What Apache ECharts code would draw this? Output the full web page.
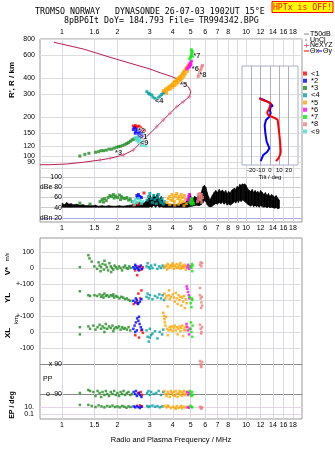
<!DOCTYPE html>
<html><head><meta charset="utf-8">
<script src="https://cdn.jsdelivr.net/npm/echarts@6/dist/echarts.min.js"></script>
<style>html,body{margin:0;padding:0;background:#fff}#c{width:335px;height:451px}</style>
</head><body><div id="c"></div>
<script>
// ---------- axis ticks ----------
const freqTicks = [1,1.5,2,3,4,5,6,7,8,9,10,12,14,16,18];
const topFreqLabels = [1,1.5,2,3,4,5,6,7,8,10,12,14,16,18];
const midFreqLabels = [1,1.5,2,3,4,5,6,7,8,9,10,12,14,16,18];
const botFreqLabels = [1,1.5,2,3,4,5,6,7,8,10,12,14,16,18];
const heightTicks = [80,90,100,120,150,200,300,400,600,800];
const dbTicks = [20,40,60,80,100];
const tiltTicks = [-20,-10,0,10,20];

// ---------- trace legend ----------
const traceNames = ['<1','*2','*3','<4','*5','*6','*7','*8','<9'];
const traceColors = ['#ff0000','#0000ff','#228b22','#00a0a0','#ffa500','#ff00ff','#00ee00','#f08080','#40e0d0'];

// ---------- electron density profile (MHz, km) ----------
const profFreq = [0.759,0.861,1.06,1.305,1.609,1.823,2.154,2.44,2.654,2.886,3.271,3.552,3.864,4.202,4.563,4.918,5.007,4.859,4.377,3.864,3.409,3.008,1.983,1.305,0.905];
const profHeight = [85.7,85.7,86.8,89.5,93.2,96.0,101.9,111.3,125.4,141,168.4,189.7,213.6,240.2,262.6,287,313.6,342.8,386,414.5,439.5,469.3,557.5,669.6,754.4];
const neFreq = [1.609,1.823,2.154,2.44,3.271,3.552,3.864,4.202,4.563,4.918];
const neHeight = [93.2,96.0,101.9,111.3,168.4,189.7,213.6,240.2,262.6,287];

// ---------- virtual height traces (MHz, km) ----------
const t1Main = [[2.44,170],[2.5,172],[2.56,168],[2.62,170],[2.68,165],[2.74,160],[2.8,158],[2.66,158],[2.52,165]];
const t2Main = [[2.44,160],[2.48,165],[2.52,155],[2.56,160],[2.6,150],[2.65,155],[2.7,148],[2.75,145],[2.5,150],[2.62,142],[2.7,140]];
const t3Main = [[1.25,100],[1.33,103],[1.40,105],[1.52,107],[1.58,108],[1.63,110],[1.68,110],[1.74,111],[1.80,113],[1.86,113],[1.92,115],[1.98,117],[2.03,118],[2.08,119],[2.14,121],[2.20,123],[2.25,125],[2.30,127],[2.35,130],[2.40,133],[2.45,135],[2.50,137]];
const t4Main = [[2.89,314],[2.95,305],[3.0,300],[3.07,296],[3.12,285],[3.2,278],[3.27,274],[3.35,282],[3.41,290],[3.48,298],[3.54,306],[3.6,310]];
const t5Main = [[3.55,320],[3.62,315],[3.65,330],[3.7,320],[3.75,335],[3.8,340],[3.85,345],[3.9,350],[3.95,355],[4.0,360],[4.05,370],[4.1,375],[4.15,380],[4.2,385],[4.25,395],[4.3,400],[4.35,405],[4.4,410],[4.45,420],[4.5,430],[4.55,440],[4.6,450],[4.65,460],[4.7,470],[4.75,480],[4.8,490],[4.85,500],[4.9,515],[3.7,305],[3.8,325],[3.9,330],[4.0,340],[4.1,350],[4.2,360],[4.3,370],[4.4,385],[4.5,395],[4.6,410],[4.7,430],[4.8,450],[4.6,430],[4.4,400],[4.2,375],[4.0,350]];
const t6Main = [[4.78,470],[4.85,480],[4.9,495],[4.95,510],[5.0,525],[5.05,540],[4.95,490],[5.02,505]];
const t7Main = [[4.95,560],[5.0,580],[5.05,600],[5.08,620],[5.1,640],[5.05,660],[5.12,590]];
const t8Main = [[5.5,410],[5.55,425],[5.6,440],[5.65,455],[5.7,470],[5.75,490],[5.8,500]];
const t9Main = [[2.5,138],[2.55,140],[2.6,135],[2.65,132],[2.7,128],[2.75,125],[2.8,122],[2.85,120],[2.6,128],[2.7,121],[2.78,130],[2.55,132]];

// trace tags drawn in the ionogram
const tagNames = ['*3','<4','*5','*6','*7','*8','*2','<1','<9'];
const tagFreq = [1.94,3.20,4.38,5.07,5.17,5.57,2.59,2.62,2.65];
const tagHeight = [105.5,266,353,469,594,422,156,140,126];

// ---------- amplitude panel (dB) ----------
const bandFreq = [1.0,1.03,1.06,1.09,1.12,1.15,1.2,1.25,1.3,1.35,1.4,1.46,1.52,1.58,1.65,1.72,1.8,1.88,1.96,2.05,2.15,2.25,2.35,2.45,2.55,2.65,2.75,2.85,2.95,3.02,3.08,3.15,3.22,3.3,3.38,3.46,3.55,3.65,3.75,3.9,4.05,4.2,4.35,4.5,4.65,4.8,4.95,5.1,5.25,5.4,5.55,5.7,5.85,5.95,6.05,6.15,6.25,6.35,6.45,6.55,6.7,6.85,7.0,7.15,7.3,7.45,7.6,7.75,7.9,8.05,8.2,8.35,8.5,8.65,8.8,8.95,9.1,9.25,9.4,9.55,9.7,9.85,10.0,10.2,10.4,10.6,10.8,11.0,11.2,11.4,11.6,11.8,12.0,12.25,12.5,12.75,13.0,13.25,13.5,13.75,14.0,14.3,14.6,14.9,15.2];
const bandHigh = [49,46,50,47,48,46,47,45,46,44,45,44,45,43,44,43,44,43,43,44,43,44,45,46,47,50,48,52,58,64,55,66,60,68,56,62,50,48,47,46,47,46,47,48,50,54,68,56,62,60,64,70,82,84,80,70,62,56,58,64,70,74,70,76,72,75,70,74,68,72,69,74,76,79,76,82,80,86,84,87,86,87,84,78,74,72,76,70,74,70,72,68,74,70,66,70,64,68,62,66,64,61,64,58,55];
const bandLow = [41,41,41,41,41,41,41,41,41,41,41,41,41,41,41,41,41,41,41,41,41,41,41,41,41,41,41,41,41,42,41,45,41,44,41,42,41,41,41,41,41,41,41,41,41,41,42,43,44,45,44,46,50,54,52,46,43,42,42,43,46,48,47,50,48,51,47,50,45,48,45,47,49,52,49,54,50,55,52,55,54,52,50,47,45,43,46,42,45,42,44,41,45,42,41,42,40,42,40,41,40,39,40,38,39];
const t1Db = [[2.44,45],[2.55,49],[2.79,69],[2.6,47]];
const t2Db = [[2.55,64],[2.6,66],[2.65,62],[2.7,60],[2.58,60]];
const t3Db = [[1.25,49],[1.42,47],[1.61,52],[1.65,56],[1.7,58],[1.74,54],[1.78,60],[1.82,64],[1.86,62],[1.9,66],[1.95,63],[2.0,60],[2.05,65],[2.1,62],[2.15,59],[2.2,58],[2.25,60],[2.3,55],[2.35,57],[2.4,52],[1.68,51],[1.92,59],[2.08,56]];
const t4Db = [[2.9,55],[2.95,62],[3.0,68],[3.05,58],[3.1,50],[3.15,64],[3.2,56],[3.25,48],[3.3,60],[3.35,66],[3.4,54],[3.45,50],[3.5,58],[3.55,47],[3.6,52]];
const t5Db = [[3.72,50],[3.78,58],[3.84,62],[3.9,55],[3.96,66],[4.02,60],[4.08,52],[4.14,64],[4.2,68],[4.26,58],[4.32,62],[4.38,55],[4.44,66],[4.5,60],[4.56,52],[4.62,64],[4.68,57],[4.74,48],[3.85,46],[4.1,45],[4.3,47],[4.6,44],[4.0,54],[4.4,50]];
const t6Db = [[4.83,56],[4.88,62],[4.92,66],[4.96,58],[5.0,54],[4.9,52]];
const t7Db = [[4.98,50],[5.03,56],[5.08,58],[5.13,52],[5.18,48],[5.05,47]];
const t8Db = [[5.45,52],[5.5,58],[5.55,64],[5.6,68],[5.65,62],[5.7,56],[5.75,50],[5.8,60],[5.5,66],[5.62,55],[5.72,66]];
const t9Db = [[2.44,52],[2.5,56],[2.55,50],[2.6,58],[2.65,54],[2.7,48],[2.75,52],[2.48,46]];

// ---------- V* (m/s) ----------
const t1V = [[2.5,-15],[2.6,10],[2.7,-10],[2.56,-45],[2.75,5]];
const t2V = [[2.44,5],[2.48,-5],[2.52,10],[2.56,0],[2.6,-10],[2.64,5],[2.68,15],[2.72,-5],[2.5,20],[2.62,-15]];
const t3V = [[1.25,5],[1.25,-70],[1.39,80],[1.41,60],[1.45,40],[1.5,10],[1.55,-5],[1.58,35],[1.6,15],[1.63,5],[1.66,25],[1.69,-10],[1.72,20],[1.75,5],[1.78,-15],[1.81,30],[1.84,10],[1.87,0],[1.9,-10],[1.93,15],[1.96,5],[2.0,-5],[2.04,10],[2.08,0],[2.12,-15],[2.16,5],[2.2,15],[2.24,0],[2.28,-5],[2.32,10],[2.36,0],[1.62,-20],[1.7,45],[1.85,-25]];
const t4V = [[2.88,10],[2.92,30],[2.96,5],[3.0,-5],[3.05,15],[3.1,0],[3.2,20],[3.3,-5],[3.38,10],[3.45,0],[3.52,15],[3.58,5]];
const t5V = [[3.6,5],[3.65,15],[3.7,10],[3.75,25],[3.8,0],[3.85,15],[3.9,5],[3.95,20],[4.0,10],[4.05,-5],[4.1,15],[4.15,5],[4.2,25],[4.25,0],[4.3,10],[4.35,20],[4.4,-5],[4.45,10],[4.5,0],[4.55,15],[4.6,5],[4.65,20],[4.7,-10],[4.75,10],[3.72,-10],[4.0,30],[4.4,30]];
const t6V = [[4.8,5],[4.85,20],[4.9,-5],[4.95,10]];
const t7V = [[5.0,10],[5.05,0],[5.1,-20],[5.12,15],[5.08,25]];
const t8V = [[5.62,20],[5.67,35],[5.72,10],[5.77,30],[5.7,-60]];
const t9V = [];

// ---------- YL (km) ----------
const t1YL = [[2.45,-25],[2.55,-15],[2.6,40],[2.7,60],[2.66,10]];
const t2YL = [[2.44,-5],[2.5,-15],[2.55,0],[2.6,-20],[2.65,-10],[2.7,5],[2.52,10],[2.58,-25]];
const t3YL = [[1.25,55],[1.39,30],[1.42,25],[1.5,30],[1.55,25],[1.6,35],[1.63,20],[1.66,30],[1.7,40],[1.73,25],[1.76,30],[1.8,20],[1.84,30],[1.88,25],[1.92,15],[1.96,25],[2.0,20],[2.05,10],[2.1,20],[2.15,15],[2.2,5],[2.25,10],[2.3,0],[2.35,-5],[1.68,15],[1.9,35]];
const t4YL = [[2.88,20],[2.92,40],[2.96,10],[3.0,30],[3.1,5],[3.2,25],[3.3,15],[3.38,35],[3.45,10],[3.52,30],[3.58,0]];
const t5YL = [[3.6,40],[3.65,10],[3.7,25],[3.75,-40],[3.8,30],[3.85,5],[3.9,20],[3.95,-55],[4.0,35],[4.05,15],[4.1,-10],[4.15,45],[4.2,10],[4.25,-25],[4.3,30],[4.35,0],[4.4,20],[4.45,-35],[4.5,15],[4.55,-10],[4.6,25],[4.65,-50],[4.7,5],[4.75,-20],[3.82,60],[4.42,-70]];
const t6YL = [[4.76,85],[4.8,70],[4.84,50],[4.88,30],[4.92,10]];
const t7YL = [[4.95,20],[5.0,-20],[5.05,-45],[5.1,0],[5.12,-70],[5.08,10]];
const t8YL = [[5.62,75],[5.62,30],[5.67,10],[5.72,-15],[5.77,-35],[5.7,-50],[5.75,20]];
const t9YL = [];

// ---------- XL (km) ----------
const t1XL = [[2.5,-20],[2.62,-35],[2.7,10],[2.75,-5]];
const t2XL = [[2.44,20],[2.48,40],[2.52,60],[2.56,85],[2.6,70],[2.64,50],[2.68,30],[2.72,15],[2.55,10],[2.62,95],[2.5,0]];
const t3XL = [[1.25,30],[1.25,-15],[1.39,35],[1.42,20],[1.48,40],[1.52,15],[1.56,30],[1.6,45],[1.63,20],[1.66,35],[1.7,25],[1.73,50],[1.76,20],[1.8,35],[1.84,25],[1.88,40],[1.92,20],[1.96,30],[2.0,25],[2.04,35],[2.08,15],[2.12,30],[2.16,20],[2.2,25],[2.25,15],[2.3,30],[2.35,10],[1.7,0],[1.9,5]];
const t4XL = [[2.88,10],[2.92,-30],[2.96,-60],[3.0,20],[3.05,-20],[3.1,-10],[3.2,5],[3.3,-40],[3.4,0],[3.5,-15],[3.55,15],[3.0,-35]];
const t5XL = [[3.55,120],[3.58,100],[3.6,80],[3.62,60],[3.65,40],[3.68,95],[3.72,20],[3.76,-20],[3.8,10],[3.85,30],[3.9,15],[3.95,35],[4.0,5],[4.05,25],[4.1,40],[4.15,10],[4.2,30],[4.25,-15],[4.3,20],[4.35,35],[4.4,5],[4.45,25],[4.5,40],[4.55,-25],[4.6,15],[4.65,30],[4.7,10],[4.75,35]];
const t6XL = [[4.8,30],[4.85,10],[4.9,-15],[4.75,50],[4.95,20]];
const t7XL = [[5.0,20],[5.05,0],[5.1,-30],[5.12,40],[5.02,60]];
const t8XL = [[5.62,45],[5.67,20],[5.72,0],[5.77,30],[5.7,-10]];
const t9XL = [];

// ---------- x polarisation (deg) ----------
const t8X = [[5.62,120],[5.67,90],[5.72,60],[5.77,110],[5.7,70]];

// ---------- PP (deg) ----------
const t1PP = [[2.62,-80],[2.68,-70],[2.72,-100]];
const t2PP = [[2.45,-70],[2.5,-90],[2.55,-110],[2.6,-80],[2.65,-100],[2.7,-120],[2.52,-60]];
const t3PP = [[1.25,-80],[1.39,-50],[1.42,-60],[1.48,-70],[1.52,-110],[1.56,-60],[1.6,-80],[1.63,-120],[1.66,-70],[1.7,-100],[1.73,-60],[1.76,-90],[1.8,-110],[1.84,-70],[1.88,-90],[1.92,-60],[1.96,-100],[2.0,-80],[2.04,-110],[2.08,-70],[2.12,-90],[2.16,-60],[2.2,-100],[2.25,-80],[2.3,-70],[2.35,-100],[2.4,-90]];
const t4PP = [[2.9,-80],[2.95,-60],[3.0,-100],[3.05,-70],[3.15,-90],[3.25,-80],[3.35,-60],[3.45,-100],[3.55,-70]];
const t5PP = [[3.6,-60],[3.65,-90],[3.7,-110],[3.75,-70],[3.8,-90],[3.85,-120],[3.9,-60],[3.95,-80],[4.0,-100],[4.05,-70],[4.1,-110],[4.15,-60],[4.2,-90],[4.25,-120],[4.3,-80],[4.35,-60],[4.4,-100],[4.45,-70],[4.5,-110],[4.55,-80],[4.6,-60],[4.65,-100],[4.7,-90],[4.75,-70]];
const t6PP = [[4.8,-70],[4.85,-100],[4.9,-80]];
const t7PP = [[4.95,-60],[5.0,-90],[5.05,-110],[5.1,-70],[5.12,-100]];

// ---------- EP (deg) ----------
const t1EP = [[2.65,30],[2.72,15]];
const t2EP = [[2.45,15],[2.5,8],[2.55,20],[2.6,10],[2.65,5],[2.7,12]];
const t3EP = [[1.25,40],[1.39,40],[1.45,20],[1.52,10],[1.58,30],[1.64,15],[1.7,8],[1.76,20],[1.82,12],[1.88,25],[1.94,10],[2.0,15],[2.06,8],[2.12,20],[2.18,12],[2.24,6],[2.3,15],[2.36,10]];
const t4EP = [[2.9,20],[2.95,10],[3.0,15],[3.1,25],[3.2,12],[3.3,18],[3.4,8],[3.5,15]];
const t5EP = [[3.6,20],[3.7,8],[3.8,15],[3.9,5],[4.0,12],[4.1,6],[4.2,18],[4.3,5],[4.4,10],[4.5,4],[4.6,12],[4.7,7],[3.75,25],[4.15,3],[4.45,20]];
const t6EP = [[4.82,10],[4.88,6]];
const t7EP = [[4.98,20],[5.05,12],[5.1,8]];
const t8EP = [[5.62,12],[5.67,6],[5.72,3],[5.77,8]];

// ---------- tilt inset (deg, km) ----------
const thetaX = [-11.1,-7.2,-2.9,0.7,2.2,-0.7,-2.9,-2.5,1.8,5.4,8.2,9.7,9.7,10.8,11.5,10.8,9.0,6.5];
const thetaXh = [279,269,263,255,248,234,218,210,201,196,190,184,154,129,108,102,96,91.5];
const thetaY = [-11.5,-7.2,-0.7,2.9,0.7,0,0.7,1.4,-0.7,-4.3,-5.7,-5.0,-3.6,-0.7,-2.9,-7.2,-10.0];
const thetaYh = [279,272,258,244,240,225,214,210,201,190,173,150,129,115,108,102,91.5];

// ================= build chart =================
const FONT = '"Liberation Sans", Arial, sans-serif';
const MONO = '"DejaVu Sans Mono", monospace';
const GRID_V = '#dcd8e0', GRID_H = '#dddddd';

function gridBox(top, height, extra) {
  return Object.assign({left: 40, right: 33, top: top, height: height, outerBoundsMode: 'none', containLabel: false}, extra || {});
}
const grids = [
  gridBox(39, 133),   // 0 main
  gridBox(172, 50),   // 1 dB
  gridBox(238, 38),   // 2 V*
  gridBox(276, 32),   // 3 YL
  gridBox(308, 48),   // 4 XL
  gridBox(356, 16),   // 5 x
  gridBox(372, 28),   // 6 PP
  gridBox(400, 19),   // 7 EP
  {left: 242, width: 56, top: 66, height: 99, outerBoundsMode: 'none', show: true, backgroundColor: '#ffffff', borderColor: '#aab0c8', borderWidth: 1, z: 2}, // 8 inset
  gridBox(39, 183, {show: true, borderColor: '#999', borderWidth: 1, backgroundColor: 'transparent'}), // 9 frame
  gridBox(238, 181, {show: true, borderColor: '#999', borderWidth: 1, backgroundColor: 'transparent'})  // 10 frame
];

function freqAxis(gi, labels, pos, fmt, extra) {
  return Object.assign({
    type: 'log', logBase: 10, gridIndex: gi, min: 0.759, max: 20.15, position: pos || 'bottom',
    axisLine: {show: false}, axisTick: {show: false, customValues: freqTicks},
    axisLabel: labels ? {show: true, customValues: labels, fontSize: 7, fontFamily: FONT, color: '#000', margin: 3,
      formatter: fmt || (v => String(v))} : {show: false},
    splitLine: {show: true, lineStyle: {color: GRID_V, width: 1}}
  }, extra || {});
}
const xAxes = [
  freqAxis(0, topFreqLabels, 'top', v => (v === 1.5 ? '1.6' : String(v))),
  freqAxis(1, midFreqLabels, 'bottom'),
  freqAxis(2), freqAxis(3), freqAxis(4), freqAxis(5), freqAxis(6),
  freqAxis(7, botFreqLabels, 'bottom', null, {name: 'Radio and Plasma Frequency / MHz', nameLocation: 'middle', nameGap: 17,
    nameTextStyle: {fontSize: 7.5, fontFamily: FONT, color: '#000'}}),
  {type: 'value', gridIndex: 8, min: -30, max: 30, z: 3,
    axisLine: {show: false}, axisTick: {show: false, customValues: tiltTicks},
    axisLabel: {show: true, customValues: tiltTicks, fontSize: 6, fontFamily: FONT, color: '#000', margin: 2},
    splitLine: {show: true, lineStyle: {color: '#aab0c8'}},
    name: 'Tilt / deg', nameLocation: 'middle', nameGap: 9, nameTextStyle: {fontSize: 6, fontFamily: FONT, color: '#000'}},
  {type: 'value', gridIndex: 9, show: false},
  {type: 'value', gridIndex: 10, show: false}
];

function valAxis(gi, min, max, ticks, fmt, margin, splitColor, extra) {
  return Object.assign({
    type: 'value', gridIndex: gi, min: min, max: max,
    axisLine: {show: false}, axisTick: {show: false, customValues: ticks},
    axisLabel: {show: true, customValues: ticks, fontSize: 7, fontFamily: FONT, color: '#000', margin: margin,
      formatter: fmt || (v => String(v))},
    splitLine: {show: true, lineStyle: {color: splitColor || GRID_H, width: 1}}
  }, extra || {});
}
const yAxes = [
  valAxis(0, 75.3, 800, heightTicks, null, 5, GRID_H, {type: 'log', logBase: 10}),
  valAxis(1, 11.7, 110.5, dbTicks, v => (v === 80 ? 'dBe 80' : v === 20 ? 'dBn 20' : String(v)), -22,
    ['#a8a8e8', '#cccccc', '#cccccc', '#cccccc', '#cccccc']),
  valAxis(2, -50, 187.5, [0, 100], null, 6),
  valAxis(3, -50, 150, [0, 100], v => (v === 100 ? '+-100' : String(v)), 6),
  valAxis(4, -150, 150, [-100, 0, 100], v => (v === 100 ? '+-100' : String(v)), 6),
  valAxis(5, 10, 170, [90], v => 'x ' + v, -22, '#8a8a8a'),
  valAxis(6, -150, 130, [-90], v => 'o ' + v, -22, '#8a8a8a'),
  valAxis(7, 0.00373, 1000, [0.1, 10], v => (v === 10 ? '10.' : String(v)), 6, '#e4d4e8', {type: 'log', logBase: 10}),
  {type: 'log', logBase: 10, gridIndex: 8, min: 85.3, max: 495, z: 3,
    axisLine: {show: false}, axisTick: {show: false, customValues: [100,120,150,200,300,400]},
    axisLabel: {show: false}, splitLine: {show: true, lineStyle: {color: GRID_H}}},
  {type: 'value', gridIndex: 9, show: false},
  {type: 'value', gridIndex: 10, show: false}
];

const series = [];
// profile
series.push({type: 'line', xAxisIndex: 0, yAxisIndex: 0, data: profFreq.map((f, i) => [f, profHeight[i]]),
  symbol: 'none', lineStyle: {color: '#b81e50', width: 1}, z: 2, silent: true});
series.push({type: 'scatter', xAxisIndex: 0, yAxisIndex: 0, data: neFreq.map((f, i) => [f, neHeight[i]]),
  symbol: 'path://M0,2L4,2M2,0L2,4', symbolSize: 4,
  itemStyle: {color: 'rgba(0,0,0,0)', borderColor: '#e86a98', borderWidth: 1}, z: 2, silent: true});

const panelData = [
  {x: 0, size: 3, sets: [t1Main, t2Main, t3Main, t4Main, t5Main, t6Main, t7Main, t8Main, t9Main]},
  {x: 1, size: 3, sets: [t1Db, t2Db, t3Db, t4Db, t5Db, t6Db, t7Db, t8Db, t9Db]},
  {x: 2, size: 2.5, sets: [t1V, t2V, t3V, t4V, t5V, t6V, t7V, t8V, t9V]},
  {x: 3, size: 2.5, sets: [t1YL, t2YL, t3YL, t4YL, t5YL, t6YL, t7YL, t8YL, t9YL]},
  {x: 4, size: 2.5, sets: [t1XL, t2XL, t3XL, t4XL, t5XL, t6XL, t7XL, t8XL, t9XL]},
  {x: 5, size: 2.5, sets: [[], [], [], [], [], [], [], t8X, []]},
  {x: 6, size: 2.5, sets: [t1PP, t2PP, t3PP, t4PP, t5PP, t6PP, t7PP, [], []]},
  {x: 7, size: 2.5, sets: [t1EP, t2EP, t3EP, t4EP, t5EP, t6EP, t7EP, t8EP, []]}
];

// amplitude band (black)
series.push({type: 'custom', xAxisIndex: 1, yAxisIndex: 1, silent: true, z: 2,
  data: bandFreq.map((f, i) => [f, bandLow[i], bandHigh[i]]),
  renderItem: function (params, api) {
    const i = params.dataIndexInside;
    if (i >= params.dataInsideLength - 1) return null;
    const a = api.coord([api.value(0, i), api.value(1, i)]);
    const b = api.coord([api.value(0, i), api.value(2, i)]);
    const c = api.coord([api.value(0, i + 1), api.value(2, i + 1)]);
    const d = api.coord([api.value(0, i + 1), api.value(1, i + 1)]);
    return {type: 'polygon', shape: {points: [a, b, c, d]}, style: {fill: '#000', stroke: '#000', lineWidth: 0.6}};
  }});

panelData.forEach(p => {
  p.sets.forEach((d, k) => {
    series.push({type: 'scatter', name: traceNames[k], xAxisIndex: p.x, yAxisIndex: p.x, data: d,
      symbol: 'rect', symbolSize: p.size, itemStyle: {color: traceColors[k]}, z: 3, silent: true});
  });
});

// trace tags
series.push({type: 'scatter', xAxisIndex: 0, yAxisIndex: 0, symbolSize: 0, z: 5, silent: true,
  data: tagNames.map((n, i) => ({name: n, value: [tagFreq[i], tagHeight[i]]})),
  label: {show: true, position: [0, 0], align: 'left', verticalAlign: 'middle', formatter: '{b}',
    fontSize: 7.5, fontWeight: 'bold', fontFamily: FONT, color: '#000', textBorderColor: '#fff', textBorderWidth: 1}});

// tilt inset
series.push({type: 'line', xAxisIndex: 8, yAxisIndex: 8, data: thetaY.map((t, i) => [t, thetaYh[i]]),
  symbol: 'none', lineStyle: {color: '#0000ff', width: 2}, z: 4, silent: true});
series.push({type: 'line', xAxisIndex: 8, yAxisIndex: 8, data: thetaX.map((t, i) => [t, thetaXh[i]]),
  symbol: 'none', lineStyle: {color: '#ff0000', width: 2}, z: 4, silent: true});

function txt(x, y, s, font, extra) {
  return Object.assign({type: 'text', x: x, y: y, silent: true, z: 10,
    style: Object.assign({text: s, font: font, fill: '#000', textAlign: 'left', textVerticalAlign: 'middle'}, (extra && extra.style) || {})},
    extra && extra.el || {});
}
const ROT = Math.PI / 2;
const graphic = [
  txt(35, 12, 'TROMSO NORWAY   DYNASONDE 26-07-03 1902UT 15°E', '8.3px ' + MONO),
  txt(64, 20.5, '8pBP6It DoY= 184.793 File= TR994342.BPG', '8.3px ' + MONO),
  {type: 'rect', shape: {x: 272, y: 1.5, width: 61, height: 11}, style: {fill: '#ffff00', stroke: '#ff0000', lineWidth: 1}, z: 9, silent: true},
  txt(302.5, 7.5, 'HPTx is OFF!', '8.2px ' + MONO, {style: {fill: '#ff0000', textAlign: 'center'}}),
  // right legend (line-type entries)
  {type: 'line', shape: {x1: 304, y1: 34, x2: 309, y2: 34}, style: {stroke: '#888', lineWidth: 1}, z: 10, silent: true},
  txt(310, 34, 'T50dB', '7px ' + FONT),
  {type: 'rect', shape: {x: 305.5, y: 39.5, width: 1, height: 1}, style: {fill: '#000'}, z: 10, silent: true},
  txt(310, 40, 'UnCl', '7px ' + FONT),
  {type: 'line', shape: {x1: 304, y1: 45.5, x2: 309, y2: 45.5}, style: {stroke: '#e86a98', lineWidth: 1}, z: 10, silent: true},
  {type: 'line', shape: {x1: 306.5, y1: 43.5, x2: 306.5, y2: 47.5}, style: {stroke: '#e86a98', lineWidth: 1}, z: 10, silent: true},
  txt(310, 45.5, 'NeXYZ', '7px ' + FONT),
  {type: 'line', shape: {x1: 304, y1: 51, x2: 309, y2: 51}, style: {stroke: '#ff0000', lineWidth: 1}, z: 10, silent: true},
  txt(310, 51, 'Θx', '7px ' + FONT),
  {type: 'line', shape: {x1: 318, y1: 51, x2: 322, y2: 51}, style: {stroke: '#0000ff', lineWidth: 1}, z: 10, silent: true},
  txt(323, 51, 'Θy', '7px ' + FONT),
  // axis titles
  txt(12, 80, "R', R / km", 'bold 8px ' + FONT, {style: {textAlign: 'center'}, el: {rotation: ROT}}),
  txt(8, 257, 'm/s', '5px ' + FONT, {style: {textAlign: 'center'}, el: {rotation: ROT}}),
  txt(8, 271, 'V*', 'bold 8px ' + FONT, {style: {textAlign: 'center'}, el: {rotation: ROT}}),
  txt(8, 298, 'YL', 'bold 8px ' + FONT, {style: {textAlign: 'center'}, el: {rotation: ROT}}),
  txt(16.5, 320, 'km', '6px ' + FONT, {style: {textAlign: 'center'}, el: {rotation: ROT}}),
  txt(8, 333, 'XL', 'bold 8px ' + FONT, {style: {textAlign: 'center'}, el: {rotation: ROT}}),
  txt(43, 379, 'PP', '7px ' + FONT),
  txt(12, 405, 'EP / deg', 'bold 7px ' + FONT, {style: {textAlign: 'center'}, el: {rotation: ROT}})
];

const chart = echarts.init(document.getElementById('c'), null, {renderer: 'canvas'});
chart.setOption({
  animation: false,
  backgroundColor: '#ffffff',
  textStyle: {fontFamily: FONT},
  grid: grids, xAxis: xAxes, yAxis: yAxes, series: series, graphic: graphic,
  legend: {data: traceNames, orient: 'vertical', left: 303, top: 69.5, padding: 0, itemGap: -0.75,
    itemWidth: 4, itemHeight: 4, icon: 'rect', selectedMode: false,
    textStyle: {fontSize: 7.5, fontFamily: FONT, color: '#000', lineHeight: 7.3, padding: [0, 0, 0, -1]}}
});
</script></body></html>
